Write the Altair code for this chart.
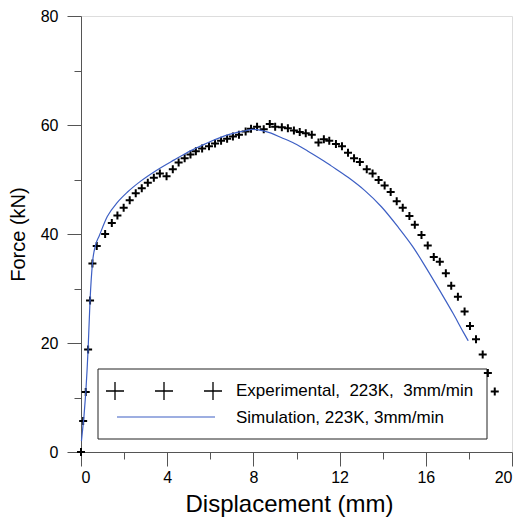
import altair as alt
import pandas as pd

# Experimental data (Displacement mm, Force kN)
exp_x = [0, 0.10, 0.22, 0.33, 0.42, 0.53, 0.73, 1.12, 1.43, 1.69, 1.98, 2.26, 2.54, 2.82,
         3.10, 3.38, 3.66, 3.97, 4.26, 4.53, 4.81, 5.08, 5.33, 5.62, 5.94, 6.22, 6.50,
         6.78, 7.05, 7.33, 7.64, 7.89, 8.17, 8.48, 8.76, 9.01, 9.32, 9.60, 9.88, 10.15,
         10.43, 10.71, 11.02, 11.27, 11.52, 11.83, 12.11, 12.39, 12.67, 12.94, 13.26,
         13.53, 13.81, 14.09, 14.37, 14.65, 14.93, 15.24, 15.49, 15.80, 16.09, 16.37,
         16.65, 16.93, 17.18, 17.49, 17.80, 18.05, 18.33, 18.64, 18.88, 19.20]
exp_y = [0, 5.7, 11.0, 18.8, 27.8, 34.6, 37.8, 40.0, 42.0, 43.4, 44.8, 46.2, 47.5, 48.4,
         49.4, 50.3, 51.1, 50.6, 51.9, 53.1, 53.9, 54.6, 55.2, 55.7, 56.1, 56.6, 57.1,
         57.5, 57.9, 58.2, 58.8, 59.3, 59.7, 59.2, 60.2, 59.7, 59.6, 59.4, 59.0, 58.7,
         58.5, 58.2, 56.8, 57.4, 57.1, 56.5, 56.1, 54.9, 53.9, 53.2, 51.9, 51.1, 49.9,
         48.9, 47.7, 46.0, 44.8, 43.3, 41.7, 39.8, 37.9, 35.8, 34.9, 32.8, 30.5, 28.5,
         25.8, 23.1, 20.7, 17.9, 14.5, 11.1]

# Simulation curve
sim_x = [0.02, 0.22, 0.33, 0.42, 0.53, 0.68, 0.84, 1.22, 1.69, 2.16, 2.77, 3.55, 4.33,
         5.10, 5.69, 6.03, 6.81, 7.58, 7.97, 8.36, 8.82, 9.29, 9.91, 10.53, 11.27, 11.61,
         12.39, 13.16, 13.94, 14.71, 15.41, 16.03, 16.65, 17.27, 17.74, 17.97]
sim_y = [2.0, 10.8, 18.9, 27.8, 34.6, 38.0, 39.6, 43.2, 45.8, 47.7, 49.7, 51.8, 53.6,
         55.3, 56.4, 57.0, 58.2, 58.9, 59.2, 59.0, 58.5, 57.7, 56.6, 55.2, 53.4, 52.5,
         50.4, 48.0, 45.0, 41.3, 37.6, 33.7, 29.6, 25.4, 22.0, 20.4]

x_major = [0, 4, 8, 12, 16, 20]
x_minor = [2, 6, 10, 14, 18]
y_major = [0, 20, 40, 60, 80]
y_minor = [10, 30, 50, 70]
legend_labels = ["Experimental,\u00a0 223K,\u00a0 3mm/min", "Simulation, 223K, 3mm/min"]

FONT = "Liberation Sans"
AX = "#555555"
BLUE = "#3d5fc4"
PLUS = "M-1,0H1M0,-1V1"

exp_df = pd.DataFrame({"d": exp_x, "f": exp_y})
sim_df = pd.DataFrame({"d": sim_x, "f": sim_y})

xs = alt.Scale(domain=[0, 20], nice=False, zero=False)
ys = alt.Scale(domain=[0, 80], nice=False, zero=False)

x_axis = alt.Axis(values=x_major, orient="bottom", tickSize=14, tickColor=AX, domainColor=AX,
                  labelFontSize=16, labelPadding=3, labelColor="black", labelFont=FONT,
                  grid=False, format="d", title="Displacement (mm)", titleFont=FONT,
                  titleFontSize=24, titleFontWeight="normal", titleColor="black",
                  titleX=208, titleY=59, titleAlign="center", titleBaseline="alphabetic")
y_axis = alt.Axis(values=y_major, orient="left", tickSize=14, tickColor=AX, domainColor=AX,
                  labelFontSize=16, labelPadding=9, labelColor="black", labelFont=FONT,
                  grid=False, format="d", title="Force (kN)", titleFont=FONT,
                  titleFontSize=20, titleFontWeight="normal", titleColor="black",
                  titleX=-63, titleY=218, titleAngle=270, titleAlign="center",
                  titleBaseline="middle")
x_axis_minor = alt.Axis(values=x_minor, orient="bottom", tickSize=7, tickColor=AX,
                        domain=False, labels=False, grid=False, title=None)
y_axis_minor = alt.Axis(values=y_minor, orient="left", tickSize=7, tickColor=AX,
                        domain=False, labels=False, grid=False, title=None)

one = alt.Data(values=[{}])

legend_box = alt.Chart(one).mark_rect(filled=False, stroke="#222222", strokeWidth=1).encode(
    x=alt.value(17), x2=alt.value(406), y=alt.value(353), y2=alt.value(423))

sim_line = alt.Chart(sim_df).mark_line(color=BLUE, strokeWidth=1.2,
                                       interpolate="monotone").encode(
    x=alt.X("d:Q", scale=xs, axis=x_axis_minor),
    y=alt.Y("f:Q", scale=ys, axis=y_axis_minor))

exp_pts = alt.Chart(exp_df).mark_point(shape=PLUS, size=64, filled=False, stroke="black",
                                       strokeWidth=2, opacity=1).encode(
    x=alt.X("d:Q", scale=xs, axis=x_axis),
    y=alt.Y("f:Q", scale=ys, axis=y_axis))

leg_layers = []
for px in [34, 83, 132]:
    leg_layers.append(alt.Chart(one).mark_point(shape=PLUS, size=324, filled=False,
                                                stroke="black", strokeWidth=1.3, opacity=1)
                      .encode(x=alt.value(px), y=alt.value(375)))
leg_layers.append(alt.Chart(one).mark_rule(color=BLUE, strokeWidth=1.2).encode(
    x=alt.value(36), x2=alt.value(134), y=alt.value(401)))
leg_layers.append(alt.Chart(one).mark_text(align="left", baseline="middle", fontSize=17,
                                           font=FONT, color="black").encode(
    x=alt.value(155), y=alt.value(375), text=alt.value(legend_labels[0])))
leg_layers.append(alt.Chart(one).mark_text(align="left", baseline="middle", fontSize=17,
                                           font=FONT, color="black").encode(
    x=alt.value(155), y=alt.value(402), text=alt.value(legend_labels[1])))

chart = alt.layer(legend_box, exp_pts, sim_line, *leg_layers).resolve_axis(
    x="independent", y="independent"
).properties(
    width=431, height=436,
    autosize=alt.AutoSizeParams(type="none"),
    padding={"left": 73, "top": 8, "right": 9, "bottom": 66},
).configure_view(stroke=None).configure(background="white")

chart.save("out.html", embed_options={"renderer": "svg", "actions": False})
